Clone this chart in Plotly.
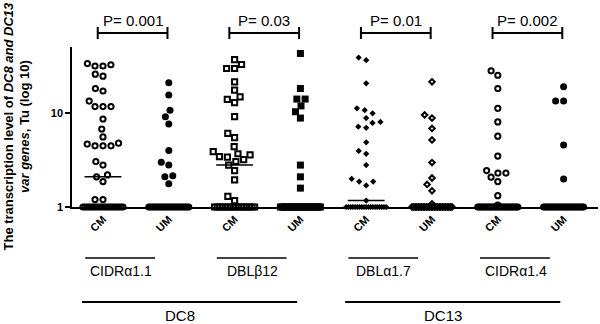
import numpy as np
import plotly.graph_objects as go

# ---------------- data ----------------
categories = ["CM", "UM", "CM", "UM", "CM", "UM", "CM", "UM"]
genes = ["CIDRα1.1", "DBLβ12", "DBLα1.7", "CIDRα1.4"]
dc_groups = ["DC8", "DC13"]
p_values = ["P= 0.001", "P= 0.03", "P= 0.01", "P= 0.002"]
y_tick_values = [1, 10]
y_tick_labels = ["1", "10"]

# values above the baseline (Tu)
cm_cidra11 = [34, 33, 32, 32, 26.2, 24.9, 18.4, 17.3, 13.5, 11.8, 11.8, 11.8, 8.7,
              6.8, 5.6, 4.8, 4.7, 4.5, 4.5, 4.5, 3.06, 2.8, 2.2, 2.1, 1.87, 1.2, 1.2]
um_cidra11 = [21.2, 15.7, 10.8, 9.2, 7.7, 4.0, 3.0, 2.8, 2.15, 2.1, 1.77]
cm_dblb12 = [37.5, 33.2, 30.1, 30.1, 21.7, 17.7, 15.0, 14.1, 13.0, 9.2, 6.1, 5.5,
             4.4, 3.9, 3.7, 3.6, 3.45, 3.4, 3.2, 3.06, 2.8, 2.45, 1.95, 1.3, 1.17]
um_dblb12 = [43.5, 18.4, 14.2, 14.2, 12.0, 10.4, 8.9, 2.8, 2.1, 1.59]
cm_dbla17 = [39.4, 36.9, 20.9, 11.3, 10.8, 10.0, 8.9, 8.1, 7.9, 7.2, 7.0, 4.9,
             3.97, 3.7, 2.8, 2.0, 1.87, 1.87, 1.7, 1.17]
um_dbla17 = [21.7, 9.6, 8.9, 6.9, 5.2, 2.98, 2.04, 1.74, 1.49, 1.08]
cm_cidra14 = [28.4, 25.5, 18.4, 11.3, 8.1, 5.7, 3.5, 2.45, 2.3, 2.3, 2.08, 1.87,
              1.32, 1.05]
um_cidra14 = [19.2, 13.5, 13.5, 4.6, 1.99]

# number of samples at the baseline value of 1 in each column (estimated)
n_at_one = [20, 24, 16, 24, 19, 26, 28, 26]
baseline_value = 1

series_values = [cm_cidra11, um_cidra11, cm_dblb12, um_dblb12,
                 cm_dbla17, um_dbla17, cm_cidra14, um_cidra14]

# ---------------- styles ----------------
symbols = ["circle-open", "circle", "square-open", "square",
           "diamond", "diamond-open", "circle-open", "circle"]
sizes = [5.2, 7, 5.2, 7, 4.8, 4.2, 5.2, 7]
FONT = "Liberation Sans, Arial, sans-serif"

W, H = 600, 324
AX_L, AX_R, AX_T, AX_B = 72, 598, 47, 207        # plot area in px
ML, MT = AX_L, AX_T
MR = W - AX_R
MB = H - AX_B
plot_w = AX_R - AX_L
plot_h = AX_B - AX_T
PXU = 65.8                      # px per category step
x_lo = -(103 - AX_L) / PXU
x_hi = x_lo + plot_w / PXU
y_top = 1.708
PY = plot_h / y_top             # px per decade


def swarm(vals, d=8.0):
    y = np.log10(np.asarray(vals, float)) * PY
    xs = np.zeros(len(y))
    placed = []
    for i in np.argsort(y, kind="stable"):
        cands = [0.0]
        for xj, yj in placed:
            dy = y[i] - yj
            if abs(dy) < d:
                dx = np.sqrt(d * d - dy * dy)
                cands += [xj - dx, xj + dx]
        ok = [c for c in cands
              if all((c - xj) ** 2 + (y[i] - yj) ** 2 >= d * d - 1e-6 for xj, yj in placed)]
        best = min(ok, key=lambda c: (abs(c), c))
        xs[i] = best
        placed.append((best, y[i]))
    return xs


fig = go.Figure()
positions = list(range(len(categories)))
for k, vals in enumerate(series_values):
    pos = positions[k]
    xs_px = swarm(vals)
    n1 = n_at_one[k]
    base_px = np.linspace(-20, 20, n1)
    xs = np.concatenate([pos + base_px / PXU, pos + xs_px / PXU])
    ys = np.concatenate([np.full(n1, baseline_value), np.asarray(vals, float)])
    open_sym = symbols[k].endswith("open")
    fig.add_trace(go.Scatter(
        x=xs, y=ys, mode="markers", cliponaxis=False, showlegend=False,
        marker=dict(symbol=symbols[k], size=sizes[k], color="black",
                    line=dict(color="black", width=2 if open_sym else 0))))
    med = float(np.median(ys))
    fig.add_trace(go.Scatter(
        x=[pos - 0.28, pos + 0.28], y=[med, med], mode="lines",
        cliponaxis=False, showlegend=False,
        line=dict(color="black", width=1.5)))


def py2paper(py):
    """y pixel -> paper coordinate"""
    return (AX_B - py) / plot_h


shapes = []
annotations = []
for g in range(len(genes)):
    cm = positions[2 * g]
    um = positions[2 * g + 1]
    x0, x1 = cm - 0.08, um - 0.02
    yb = py2paper(33)
    shapes.append(dict(type="line", xref="x", yref="paper", x0=x0, x1=x1, y0=yb, y1=yb,
                       line=dict(color="black", width=2)))
    for xx in (x0, x1):
        shapes.append(dict(type="line", xref="x", yref="paper", x0=xx, x1=xx,
                           y0=py2paper(39), y1=py2paper(27),
                           line=dict(color="black", width=2)))
    annotations.append(dict(text=p_values[g], xref="x", yref="paper",
                            x=(x0 + x1) / 2, y=py2paper(21), xanchor="center",
                            yanchor="middle", showarrow=False,
                            font=dict(family=FONT, size=15, color="black")))
    shapes.append(dict(type="line", xref="x", yref="paper", x0=cm - 0.27, x1=cm + 0.79,
                       y0=py2paper(258), y1=py2paper(258),
                       line=dict(color="black", width=1.5)))
    annotations.append(dict(text=genes[g], xref="x", yref="paper", x=cm + 0.27,
                            y=py2paper(271), xanchor="center", yanchor="middle",
                            showarrow=False,
                            font=dict(family=FONT, size=14, color="black")))

for j, name in enumerate(dc_groups):
    first_cm = positions[4 * j]
    last_um = positions[4 * j + 3]
    shapes.append(dict(type="line", xref="x", yref="paper", x0=first_cm - 0.32,
                       x1=last_um - 0.05, y0=py2paper(302), y1=py2paper(302),
                       line=dict(color="black", width=2)))
    annotations.append(dict(text=name, xref="x", yref="paper",
                            x=positions[4 * j + 1] + 0.17, y=py2paper(315),
                            xanchor="center", yanchor="middle", showarrow=False,
                            font=dict(family=FONT, size=15, color="black")))

annotations.append(dict(
    text="<b>The transcription level of <i>DC8 and DC13</i><br><i>var genes</i>, Tu (log 10)</b>",
    xref="paper", yref="paper", x=(16.5 - AX_L) / plot_w, y=py2paper(126),
    xanchor="center", yanchor="middle", textangle=-90, showarrow=False,
    font=dict(family=FONT, size=13, color="black")))

fig.update_layout(
    width=W, height=H, margin=dict(l=ML, r=MR, t=MT, b=MB),
    paper_bgcolor="white", plot_bgcolor="white",
    shapes=shapes, annotations=annotations,
    font=dict(family=FONT, color="black"),
    xaxis=dict(range=[x_lo, x_hi], tickvals=positions, ticktext=categories,
               tickangle=-45, ticks="", showgrid=False, zeroline=False,
               showline=True, linecolor="black", linewidth=1.5,
               tickfont=dict(family=FONT, size=11, color="black", weight="bold")),
    yaxis=dict(type="log", range=[0, y_top], tickvals=y_tick_values,
               ticktext=y_tick_labels, ticks="outside", ticklen=5, tickwidth=1.5,
               tickcolor="black", showgrid=False, zeroline=False, showline=True,
               linecolor="black", linewidth=1.5,
               tickfont=dict(family=FONT, size=11, color="black", weight="bold")),
)

# remove the browser's default 8px page margin so the figure fills the window
fig.write_html("out.html", config={"displayModeBar": False},
               post_script="document.body.style.margin='0';document.body.style.padding='0';")
